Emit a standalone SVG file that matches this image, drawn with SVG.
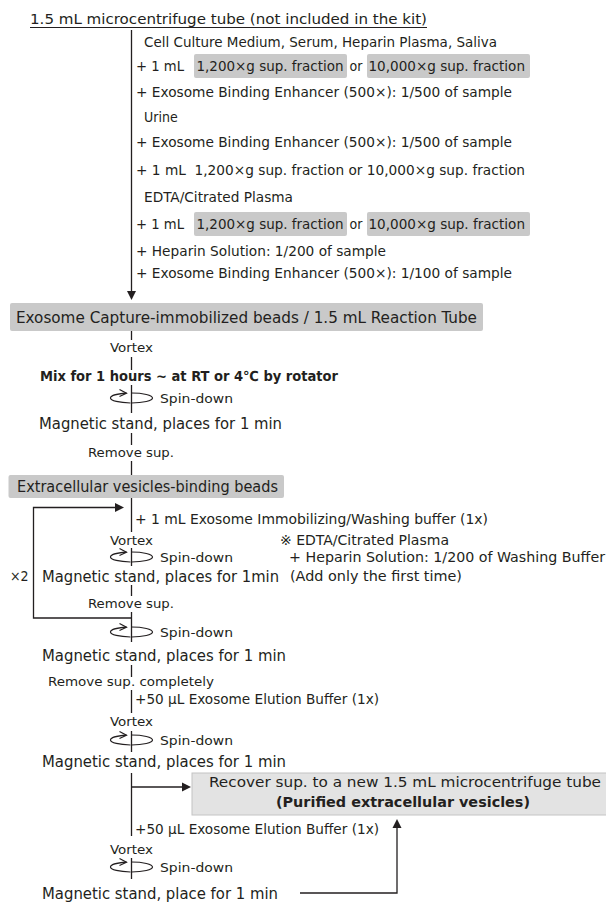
<svg xmlns="http://www.w3.org/2000/svg" xmlns:xlink="http://www.w3.org/1999/xlink" width="606" height="907" viewBox="0 0 606 907">
<style>
text{font-family:"DejaVu Sans","Open Sans",sans-serif;font-stretch:condensed;fill:#231f20;font-size:14px}
.ti{font-size:14.5px}
.m{font-size:15.5px}
.s{font-size:13px}
.b{font-weight:bold}
.box{fill:#c9c9c9}
.rbox{fill:#e3e3e3;stroke:#c4c4c4;stroke-width:1}
.ln{stroke:#231f20;stroke-width:1.3;fill:none}
.ah{fill:#231f20}
.sp{stroke:#231f20;stroke-width:1.2;fill:none}
</style>
<defs>
<g id="spin">
<path class="sp" d="M0,-5 A21 5 0 0 1 0,5"/>
<path class="sp" d="M-1,5 A21 5 0 0 1 -21,0 A21 5 0 0 1 -5,-4.8"/>
<path class="sp" d="M-12,-8.5 L-5,-4.8 L-12,-1.5"/>
</g>
</defs>

<g id="connectors">
<line class="ln" x1="131.5" y1="30" x2="131.5" y2="292"/>
<path class="ah" d="M127,291 L136,291 L131.5,300 Z"/>
<line class="ln" x1="131.5" y1="331" x2="131.5" y2="340"/>
<line class="ln" x1="131.5" y1="357" x2="131.5" y2="370"/>
<line class="ln" x1="131.5" y1="385" x2="131.5" y2="413"/>
<line class="ln" x1="131.5" y1="433" x2="131.5" y2="445"/>
<line class="ln" x1="131.5" y1="461" x2="131.5" y2="475"/>
<line class="ln" x1="131.5" y1="498" x2="131.5" y2="532"/>
<polyline class="ln" points="131.5,618 33.5,618 33.5,507.5 116,507.5"/>
<path class="ah" d="M115,503 L124,507.5 L115,512 Z"/>
<line class="ln" x1="131.5" y1="548" x2="131.5" y2="566"/>
<line class="ln" x1="131.5" y1="585" x2="131.5" y2="596"/>
<line class="ln" x1="131.5" y1="612" x2="131.5" y2="642"/>
<line class="ln" x1="131.5" y1="665" x2="131.5" y2="677"/>
<line class="ln" x1="131.5" y1="690" x2="131.5" y2="713"/>
<line class="ln" x1="131.5" y1="731" x2="131.5" y2="752"/>
<line class="ln" x1="131.5" y1="773" x2="131.5" y2="836"/>
<line class="ln" x1="131.5" y1="787" x2="183" y2="787"/>
<path class="ah" d="M182,782.5 L191,787 L182,791.5 Z"/>
<line class="ln" x1="131.5" y1="858" x2="131.5" y2="879"/>
<polyline class="ln" points="300,893 397,893 397,827"/>
<path class="ah" d="M392.5,828 L397,819 L401.5,828 Z"/>
<use xlink:href="#spin" x="131.5" y="398"/>
<use xlink:href="#spin" x="131.5" y="557"/>
<use xlink:href="#spin" x="131.5" y="632"/>
<use xlink:href="#spin" x="131.5" y="740"/>
<use xlink:href="#spin" x="131.5" y="867"/>
</g>

<g id="n-title">
<text class="ti" x="30" y="24" textLength="397" lengthAdjust="spacingAndGlyphs">1.5 mL microcentrifuge tube (not included in the kit)</text>
<line x1="30" y1="27.5" x2="427" y2="27.5" stroke="#231f20" stroke-width="1"/>
</g>

<g id="n-samples">
<text x="144" y="47" textLength="353" lengthAdjust="spacingAndGlyphs">Cell Culture Medium, Serum, Heparin Plasma, Saliva</text>
<rect class="box" x="194" y="54" width="153" height="24" rx="2"/>
<rect class="box" x="367" y="54" width="163" height="24" rx="2"/>
<text x="136" y="71" textLength="48" lengthAdjust="spacingAndGlyphs">+ 1 mL</text>
<text x="196.5" y="71" textLength="147" lengthAdjust="spacingAndGlyphs">1,200×g sup. fraction</text>
<text x="349.5" y="71">or</text>
<text x="368.5" y="71" textLength="156.5" lengthAdjust="spacingAndGlyphs">10,000×g sup. fraction</text>
<text x="136" y="97" textLength="376" lengthAdjust="spacingAndGlyphs">+ Exosome Binding Enhancer (500×): 1/500 of sample</text>
<text x="144" y="122">Urine</text>
<text x="136" y="147" textLength="376" lengthAdjust="spacingAndGlyphs">+ Exosome Binding Enhancer (500×): 1/500 of sample</text>
<text x="136" y="175" textLength="389" lengthAdjust="spacingAndGlyphs">+ 1 mL&#160;&#160;1,200×g sup. fraction or 10,000×g sup. fraction</text>
<text x="144" y="202" textLength="149" lengthAdjust="spacingAndGlyphs">EDTA/Citrated Plasma</text>
<rect class="box" x="194" y="212" width="153" height="24" rx="2"/>
<rect class="box" x="367" y="212" width="163" height="24" rx="2"/>
<text x="136" y="229" textLength="48" lengthAdjust="spacingAndGlyphs">+ 1 mL</text>
<text x="196.5" y="229" textLength="147" lengthAdjust="spacingAndGlyphs">1,200×g sup. fraction</text>
<text x="349.5" y="229">or</text>
<text x="368.5" y="229" textLength="156.5" lengthAdjust="spacingAndGlyphs">10,000×g sup. fraction</text>
<text x="136" y="256" textLength="250" lengthAdjust="spacingAndGlyphs">+ Heparin Solution: 1/200 of sample</text>
<text x="136" y="278" textLength="376" lengthAdjust="spacingAndGlyphs">+ Exosome Binding Enhancer (500×): 1/100 of sample</text>
</g>

<g id="n-capture">
<rect class="box" x="10" y="303" width="473" height="28" rx="2"/>
<text class="m" x="16" y="322.5" textLength="461" lengthAdjust="spacingAndGlyphs">Exosome Capture-immobilized beads / 1.5 mL Reaction Tube</text>
</g>

<g id="n-mix">
<text class="s" x="110" y="352" textLength="43" lengthAdjust="spacingAndGlyphs">Vortex</text>
<text class="b" x="40" y="381" textLength="298" lengthAdjust="spacingAndGlyphs">Mix for 1 hours ~ at RT or 4℃ by rotator</text>
<text class="s" x="160" y="403" textLength="73" lengthAdjust="spacingAndGlyphs">Spin-down</text>
<text class="m" x="39" y="428.5" textLength="243" lengthAdjust="spacingAndGlyphs">Magnetic stand, places for 1 min</text>
<text class="s" x="88" y="457" textLength="86" lengthAdjust="spacingAndGlyphs">Remove sup.</text>
</g>

<g id="n-ev-beads">
<rect class="box" x="8.5" y="475" width="275.5" height="23" rx="2"/>
<text class="m" x="17" y="492" textLength="261" lengthAdjust="spacingAndGlyphs">Extracellular vesicles-binding beads</text>
</g>

<g id="n-wash">
<text x="135" y="524" textLength="353" lengthAdjust="spacingAndGlyphs">+ 1 mL Exosome Immobilizing/Washing buffer (1x)</text>
<text class="s" x="110" y="545" textLength="43" lengthAdjust="spacingAndGlyphs">Vortex</text>
<text class="s" x="160" y="562" textLength="73" lengthAdjust="spacingAndGlyphs">Spin-down</text>
<text class="m" x="42" y="581.5" textLength="237" lengthAdjust="spacingAndGlyphs">Magnetic stand, places for 1min</text>
<text x="10" y="581">×2</text>
<text class="s" x="88" y="608" textLength="86" lengthAdjust="spacingAndGlyphs">Remove sup.</text>
</g>

<g id="n-note">
<text x="280" y="545" textLength="169" lengthAdjust="spacingAndGlyphs">※ EDTA/Citrated Plasma</text>
<text x="289" y="562" textLength="316" lengthAdjust="spacingAndGlyphs">+ Heparin Solution: 1/200 of Washing Buffer</text>
<text x="290" y="581" textLength="172" lengthAdjust="spacingAndGlyphs">(Add only the first time)</text>
</g>

<g id="n-final-wash">
<text class="s" x="160" y="637" textLength="73" lengthAdjust="spacingAndGlyphs">Spin-down</text>
<text class="m" x="42" y="660.5" textLength="244" lengthAdjust="spacingAndGlyphs">Magnetic stand, places for 1 min</text>
<text class="s" x="48" y="686" textLength="166" lengthAdjust="spacingAndGlyphs">Remove sup. completely</text>
</g>

<g id="n-elution1">
<text x="135" y="704" textLength="244" lengthAdjust="spacingAndGlyphs">+50 µL Exosome Elution Buffer (1x)</text>
<text class="s" x="110" y="726" textLength="43" lengthAdjust="spacingAndGlyphs">Vortex</text>
<text class="s" x="160" y="745" textLength="73" lengthAdjust="spacingAndGlyphs">Spin-down</text>
<text class="m" x="42" y="766.5" textLength="244" lengthAdjust="spacingAndGlyphs">Magnetic stand, places for 1 min</text>
</g>

<g id="n-recover">
<rect class="rbox" x="192" y="773" width="420" height="42"/>
<text x="209" y="786.5" textLength="392" lengthAdjust="spacingAndGlyphs">Recover sup. to a new 1.5 mL microcentrifuge tube</text>
<text class="b" x="276" y="806.5" textLength="254" lengthAdjust="spacingAndGlyphs">(Purified extracellular vesicles)</text>
</g>

<g id="n-elution2">
<text x="135" y="834" textLength="244" lengthAdjust="spacingAndGlyphs">+50 µL Exosome Elution Buffer (1x)</text>
<text class="s" x="110" y="854" textLength="43" lengthAdjust="spacingAndGlyphs">Vortex</text>
<text class="s" x="160" y="872" textLength="73" lengthAdjust="spacingAndGlyphs">Spin-down</text>
<text class="m" x="42" y="899" textLength="236" lengthAdjust="spacingAndGlyphs">Magnetic stand, place for 1 min</text>
</g>
</svg>
